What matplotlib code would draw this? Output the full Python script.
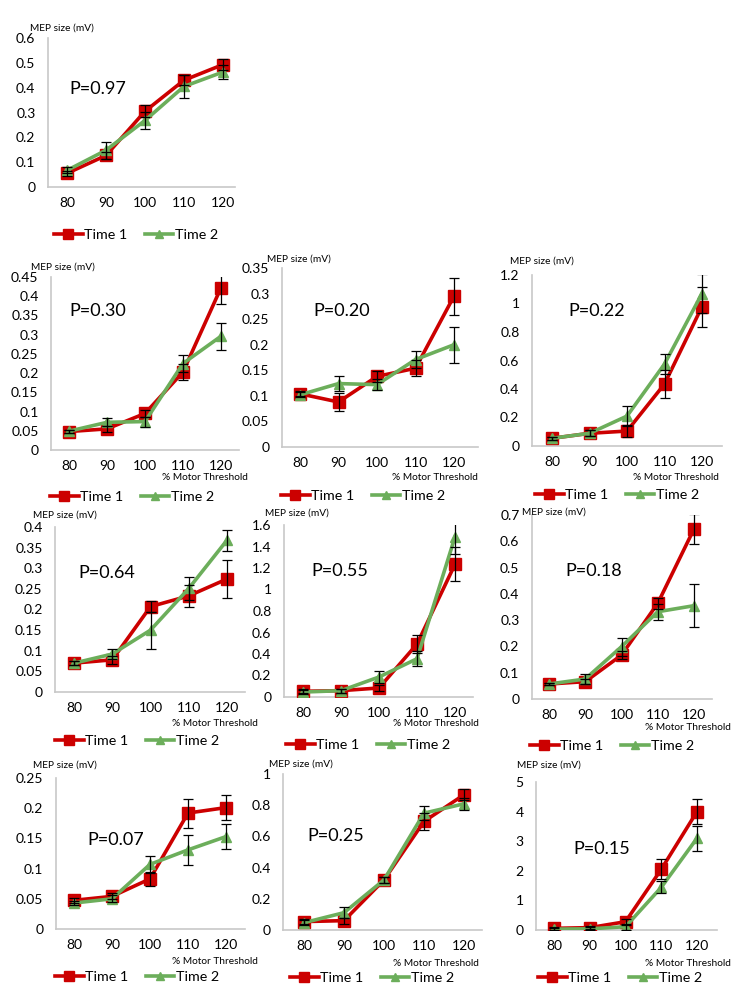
import matplotlib
matplotlib.use("Agg")
import matplotlib.pyplot as plt
from matplotlib.lines import Line2D
import numpy as np

plt.rcParams['font.family'] = ['Lato', 'DejaVu Sans']

# ---------------- data ----------------
categories = ["80", "90", "100", "110", "120"]
series_names = ["Time 1", "Time 2"]
p_labels = ["P=0.97", "P=0.30", "P=0.20", "P=0.22", "P=0.64",
            "P=0.55", "P=0.18", "P=0.07", "P=0.25", "P=0.15"]

time1 = [
    [0.055, 0.127, 0.305, 0.430, 0.493],
    [0.048, 0.055, 0.095, 0.203, 0.422],
    [0.104, 0.088, 0.138, 0.154, 0.295],
    [0.054, 0.089, 0.105, 0.435, 0.978],
    [0.070, 0.078, 0.207, 0.233, 0.274],
    [0.053, 0.059, 0.084, 0.492, 1.235],
    [0.057, 0.066, 0.167, 0.364, 0.647],
    [0.0475, 0.054, 0.083, 0.192, 0.201],
    [0.054, 0.060, 0.321, 0.696, 0.867],
    [0.056, 0.080, 0.280, 2.050, 4.000],
]
time1_err = [
    [0.010, 0.015, 0.025, 0.020, 0.022],
    [0.005, 0.008, 0.010, 0.020, 0.042],
    [0.005, 0.017, 0.010, 0.016, 0.036],
    [0.010, 0.020, 0.040, 0.095, 0.140],
    [0.005, 0.010, 0.014, 0.026, 0.047],
    [0.020, 0.020, 0.030, 0.087, 0.160],
    [0.005, 0.010, 0.015, 0.020, 0.058],
    [0.004, 0.005, 0.012, 0.024, 0.021],
    [0.015, 0.020, 0.020, 0.055, 0.035],
    [0.050, 0.050, 0.100, 0.340, 0.420],
]
time2 = [
    [0.067, 0.148, 0.268, 0.405, 0.463],
    [0.049, 0.072, 0.074, 0.225, 0.296],
    [0.102, 0.124, 0.122, 0.171, 0.200],
    [0.054, 0.089, 0.210, 0.575, 1.070],
    [0.070, 0.092, 0.150, 0.251, 0.368],
    [0.046, 0.059, 0.186, 0.356, 1.490],
    [0.057, 0.076, 0.199, 0.332, 0.355],
    [0.043, 0.050, 0.107, 0.131, 0.153],
    [0.047, 0.111, 0.321, 0.749, 0.809],
    [0.030, 0.040, 0.110, 1.440, 3.100],
]
time2_err = [
    [0.012, 0.035, 0.035, 0.045, 0.030],
    [0.004, 0.010, 0.013, 0.022, 0.035],
    [0.005, 0.015, 0.010, 0.016, 0.035],
    [0.010, 0.020, 0.070, 0.070, 0.140],
    [0.005, 0.012, 0.045, 0.028, 0.025],
    [0.020, 0.020, 0.055, 0.070, 0.160],
    [0.005, 0.020, 0.034, 0.030, 0.082],
    [0.004, 0.006, 0.014, 0.025, 0.021],
    [0.015, 0.035, 0.020, 0.045, 0.040],
    [0.050, 0.050, 0.100, 0.200, 0.430],
]
y_max = [0.6, 0.45, 0.35, 1.2, 0.4, 1.6, 0.7, 0.25, 1.0, 5.0]
y_step = [0.1, 0.05, 0.05, 0.2, 0.05, 0.2, 0.1, 0.05, 0.2, 1.0]
show_xtitle = [False, True, True, True, True, True, True, True, True, True]

# ---------------- layout (pixels) ----------------
W, H = 747, 998
# left, top, right, bottom of plot area, x pixel of first & last category
boxes = [
    (48, 38, 235, 187, 67, 223),
    (51, 277, 239, 450, 69, 221),
    (282, 268, 478, 447, 300, 454),
    (532, 275, 722, 446, 552, 702),
    (55, 527, 245, 692, 74, 227),
    (284, 525, 473, 697, 303, 455),
    (532, 515, 712, 699, 549, 694),
    (56, 778, 245, 929, 74, 226),
    (283, 774, 482, 930, 304, 464),
    (536, 782, 717, 930, 554, 697),
]
ylab_pos = [(30, 28), (31, 267), (267, 259), (510, 261), (33, 515),
            (265, 513), (522, 512), (33, 765), (269, 764), (517, 765)]
p_pos = [(69, 89), (69, 311), (313, 311), (568, 311), (78, 573),
         (311, 571), (565, 571), (87, 840), (307, 836), (573, 849)]
xt_pos = [None, (162, 478), (392, 478), (633, 478), (172, 723),
          (393, 724), (645, 727), (172, 962), (393, 963), (645, 963)]
leg_pos = [(136, 235), (132, 497), (363, 496), (617, 495), (137, 741),
           (368, 745), (612, 746), (137, 977), (372, 978), (620, 978)]

RED = "#CC0000"
GREEN = "#6CAE5B"
AXC = "#C8C8C8"

fig = plt.figure(figsize=(W / 100, H / 100), dpi=100)


def fx(px):
    return px / W


def fy(py):
    return 1 - py / H


x = np.arange(len(categories))
for i in range(10):
    L, T, R, B, x0, x4 = boxes[i]
    ax = fig.add_axes([fx(L), fy(B), (R - L) / W, (B - T) / H])
    unit = (x4 - x0) / 4.0
    ax.set_xlim((L - x0) / unit, (R - x0) / unit)
    ax.set_ylim(0, y_max[i])
    ax.set_yticks(np.round(np.arange(0, y_max[i] + y_step[i] / 2, y_step[i]), 3))
    ax.yaxis.set_major_formatter(matplotlib.ticker.FuncFormatter(
        lambda v, p: ("%g" % round(v, 3))))
    ax.set_xticks(x)
    ax.set_xticklabels(categories)
    ax.tick_params(axis='both', length=0, labelsize=10, colors="#000000")
    ax.tick_params(axis='y', pad=9)
    ax.tick_params(axis='x', pad=7)
    for s in ("top", "right"):
        ax.spines[s].set_visible(False)
    for s in ("left", "bottom"):
        ax.spines[s].set_color(AXC)
        ax.spines[s].set_linewidth(1.2)
    ax.patch.set_alpha(0)

    ax.plot(x, time1[i], color=RED, lw=2.6, marker="s", ms=8.5,
            mfc=RED, mec=RED, zorder=3)
    ax.plot(x, time2[i], color=GREEN, lw=2.6, marker="^", ms=7.5,
            mfc=GREEN, mec=GREEN, zorder=4)
    ax.errorbar(x, time1[i], yerr=time1_err[i], fmt="none", ecolor="black",
                elinewidth=0.9, capsize=3.5, capthick=0.9, zorder=5)
    ax.errorbar(x, time2[i], yerr=time2_err[i], fmt="none", ecolor="black",
                elinewidth=0.9, capsize=3.5, capthick=0.9, zorder=5)

    fig.text(fx(ylab_pos[i][0]), fy(ylab_pos[i][1]), "MEP size (mV)",
             fontsize=7.3, ha="left", va="center")
    fig.text(fx(p_pos[i][0]), fy(p_pos[i][1]), p_labels[i],
             fontsize=13, ha="left", va="center")
    if show_xtitle[i]:
        fig.text(fx(xt_pos[i][0]), fy(xt_pos[i][1]), "% Motor Threshold",
                 fontsize=7.3, ha="left", va="center")

    handles = [Line2D([], [], color=RED, lw=2.6, marker="s", ms=7),
               Line2D([], [], color=GREEN, lw=2.6, marker="^", ms=6)]
    fig.legend(handles, series_names, loc="center",
               bbox_to_anchor=(fx(leg_pos[i][0]), fy(leg_pos[i][1])),
               ncol=2, frameon=False, fontsize=10.3, handlelength=2.0,
               handletextpad=0.1, columnspacing=1.2, borderpad=0,
               borderaxespad=0, markerscale=1.0)

fig.savefig("out.png", dpi=100)
